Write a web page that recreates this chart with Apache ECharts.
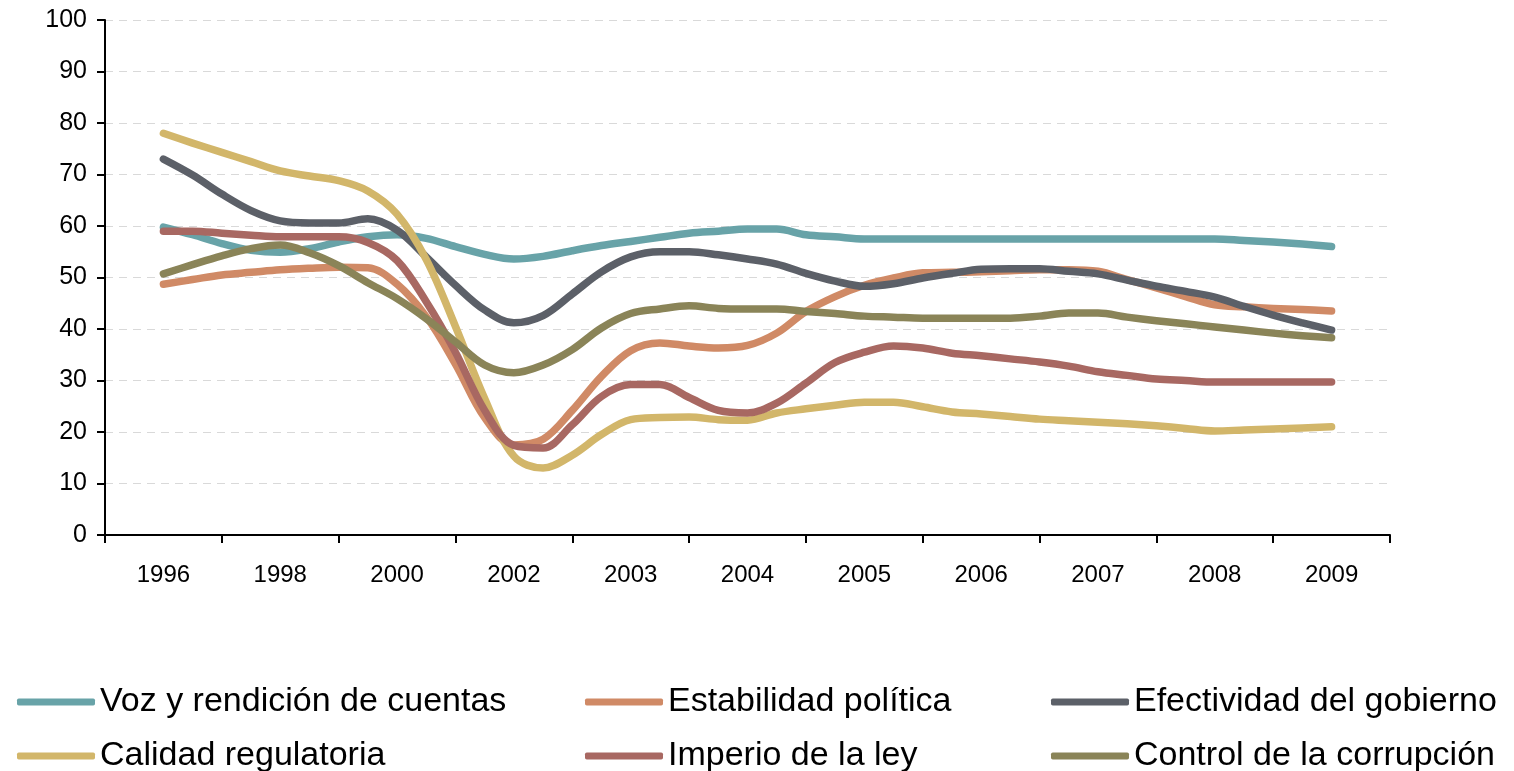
<!DOCTYPE html>
<html>
<head>
<meta charset="utf-8">
<script src="https://cdn.jsdelivr.net/npm/echarts@6/dist/echarts.min.js"></script>
<style>
html,body{margin:0;padding:0;background:#fff;}
#chart{width:1514px;height:771px;}
</style>
</head>
<body>
<div id="chart"></div>
<script>
const years = ['1996','1998','2000','2002','2003','2004','2005','2006','2007','2008','2009'];
const yTicks = [0,10,20,30,40,50,60,70,80,90,100];
// sample positions along the time axis (in category units, category i is centred at i+0.5)
const xPos = [0.5,0.75,1,1.25,1.5,1.75,2,2.25,2.5,2.75,3,3.25,3.5,3.75,4,4.25,4.5,4.75,5,5.25,5.5,5.75,6,6.25,6.5,6.75,7,7.25,7.5,7.75,8,8.25,8.5,8.75,9,9.25,9.5,9.75,10,10.25,10.5];

const voz = [59.8,58.3,56.6,55.3,54.9,55.6,56.9,57.9,58.3,57.6,56.0,54.5,53.6,54.1,55.2,56.2,57.0,57.8,58.6,59.0,59.4,59.4,58.3,57.9,57.5,57.5,57.5,57.5,57.5,57.5,57.5,57.5,57.5,57.5,57.5,57.5,57.5,57.2,56.9,56.5,56.0];
const estabilidad = [48.7,49.6,50.5,51.0,51.5,51.8,52.0,51.9,48.7,42.4,33.2,22.8,17.5,18.6,24.2,30.8,35.8,37.3,36.7,36.3,36.8,39.2,43.4,46.3,48.5,49.9,50.9,51.0,51.1,51.3,51.5,51.5,51.2,49.6,48.0,46.3,44.7,44.3,44.0,43.8,43.5];
const efectividad = [73,69.9,66.2,63,61,60.6,60.6,61.4,59.2,54,48.5,43.7,41.2,42.6,46.8,51.1,54,55,55,54.4,53.6,52.6,50.8,49.3,48.3,48.8,49.9,50.8,51.6,51.7,51.7,51.2,50.7,49.5,48.3,47.3,46.2,44.4,42.7,41.2,39.8];
const calidad = [78,76.1,74.3,72.5,70.7,69.7,68.8,66.8,62.3,53.5,40.5,26.5,15.3,13,15.5,19.5,22.4,22.8,22.9,22.4,22.3,23.7,24.5,25.2,25.8,25.8,24.9,23.9,23.5,23.0,22.5,22.2,21.9,21.6,21.2,20.7,20.2,20.4,20.6,20.8,21];
const imperio = [59,59,58.6,58.2,57.9,57.9,57.9,56.8,53.3,45.3,35.5,24.2,17.4,16.9,21.4,26.9,29.2,29.2,26.7,24.2,23.7,25.6,29.5,33.5,35.5,36.7,36.3,35.3,34.8,34.2,33.6,32.8,31.7,31,30.3,30,29.7,29.7,29.7,29.7,29.7];
const control = [50.7,52.5,54.2,55.6,56.3,54.8,52.3,49,45.9,42,37.5,33,31.5,33,36,40.2,43,43.9,44.5,44,43.9,43.9,43.4,43,42.5,42.3,42.1,42.1,42.1,42.1,42.5,43.1,43.1,42.3,41.6,41,40.4,39.8,39.2,38.7,38.3];

const seriesNames = ['Voz y rendición de cuentas','Estabilidad política','Efectividad del gobierno','Calidad regulatoria','Imperio de la ley','Control de la corrupción'];
const seriesValues = [voz, estabilidad, efectividad, calidad, imperio, control];
const colors = ['#68A3A8','#D08A66','#5C6068','#D2B66A','#A86862','#8A8458'];

const FONT = "'Liberation Sans', Arial, sans-serif";
const chart = echarts.init(document.getElementById('chart'), null, {renderer:'canvas'});

const legendText = {fontSize:34, lineHeight:40, color:'#000', fontFamily:FONT};
// legend placement: 3 columns x 2 rows
const legendCols = [12, 580, 1046];
const legendRows = [677, 731];
function mkLegend(k){
  const col = k % 3, row = Math.floor(k / 3);
  return {data:[seriesNames[k]], left:legendCols[col], top:legendRows[row], orient:'horizontal',
    itemWidth:78, itemHeight:7, icon:'roundRect', textStyle:legendText, selectedMode:false};
}

const option = {
  animation:false,
  color: colors,
  grid:{left:105, right:124, top:20, bottom:236, containLabel:false},
  legend: seriesNames.map((n, k) => mkLegend(k)),
  xAxis:[
    {type:'value', min:0, max:11, show:false},
    {type:'category', data:years, position:'bottom', boundaryGap:true,
     axisLine:{show:true, lineStyle:{color:'#000', width:2}},
     axisTick:{show:true, length:8, lineStyle:{color:'#000', width:2}},
     axisLabel:{color:'#000', fontSize:24, fontFamily:FONT, margin:28},
     splitLine:{show:false}}
  ],
  yAxis:{type:'value', min:yTicks[0], max:yTicks[yTicks.length-1], interval:10,
    axisLine:{show:true, lineStyle:{color:'#000', width:2}},
    axisTick:{show:true, length:8, lineStyle:{color:'#000', width:2}},
    axisLabel:{color:'#000', fontSize:25, fontFamily:FONT, margin:18},
    splitLine:{show:true, lineStyle:{color:'#d9d9d9', width:1, type:[8,6]}}
  },
  series: seriesNames.map((name, k) => ({
    name:name, type:'line', xAxisIndex:0, smooth:0.35, showSymbol:false, symbol:'none',
    lineStyle:{width:7.5, color:colors[k], cap:'round', join:'round'},
    itemStyle:{color:colors[k]},
    data: xPos.map((x, i) => [x, seriesValues[k][i]])
  }))
};
chart.setOption(option);
</script>
</body>
</html>
